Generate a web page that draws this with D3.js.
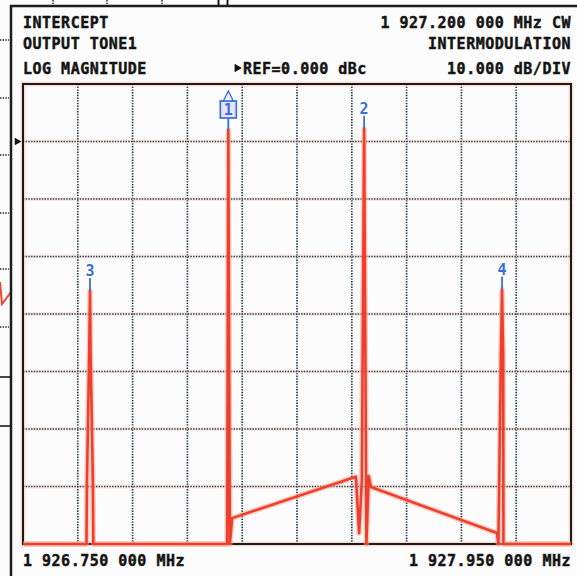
<!DOCTYPE html>
<html>
<head>
<meta charset="utf-8">
<script src="https://cdn.jsdelivr.net/npm/d3@7"></script>
<style>
  html, body { margin: 0; padding: 0; background: #fdfcfc; }
  svg { display: block; }
  .hdr { font-family: "DejaVu Sans Mono", monospace; font-weight: bold; font-size: 15px; letter-spacing: 0.5px; fill: #141414; stroke: #141414; stroke-width: 0.45px; }
  .mk { font-family: "DejaVu Sans Mono", monospace; font-weight: bold; font-size: 15px; fill: #3a6fd6; }
</style>
</head>
<body>
<script>
"use strict";

// swept trace, frequency in MHz and magnitude in dBc
const freqMHz = [1926.750, 1926.889, 1926.890, 1926.895, 1926.8967, 1926.898, 1926.903, 1926.904,
  1927.197, 1927.1996, 1927.203, 1927.208, 1927.479, 1927.486, 1927.492, 1927.497, 1927.502,
  1927.507, 1927.512, 1927.788, 1927.791, 1927.7965, 1927.799, 1927.8015, 1927.802, 1927.950];
const magDb = [-70, -70, -59.2, -36.8, -26.0, -36.8, -59.2, -70,
  -70, 2.0, -70, -65.5, -58.3, -68.1, -59.0, 2.2, -70,
  -58.2, -60.1, -68.1, -70, -37, -25.8, -37, -70, -70];

// markers
const markerIds = ["1", "2", "3", "4"];
const markerFreq = [1927.1996, 1927.497, 1926.8967, 1927.799];
const markerDb = [2.0, 2.2, -26.0, -25.8];

// axes
const startMHz = 1926.75, stopMHz = 1927.95;
const refDb = 0, dbPerDiv = 10;
const topDb = 10, bottomDb = -70;
const xDivs = 10;

// annotation texts
const leftLines = ["INTERCEPT", "OUTPUT TONE1", "LOG MAGNITUDE"];
const rightLines = ["1 927.200 000 MHz CW", "INTERMODULATION", "10.000 dB/DIV"];
const refText = "REF=0.000 dBc";
const startLabel = "1 926.750 000 MHz";
const stopLabel = "1 927.950 000 MHz";

const W = 577, H = 576;
const plot = { left: 23, top: 84, right: 571, bottom: 544 };

const svg = d3.select("body").append("svg")
  .attr("width", W)
  .attr("height", H);

// ---- bits of the neighbouring screen showing behind ----
const bg = svg.append("g");
[53, 107, 162].forEach(function (x) {
  bg.append("line").attr("x1", x).attr("x2", x).attr("y1", 0).attr("y2", 5)
    .attr("stroke", "#223").attr("stroke-width", 1.5).attr("stroke-dasharray", "1.4 1.3");
});
[218.5, 227.5].forEach(function (x) {
  bg.append("line").attr("x1", x).attr("x2", x).attr("y1", 0).attr("y2", 6)
    .attr("stroke", "#1a1a1a").attr("stroke-width", 2);
});
[40, 98, 155, 213, 269, 327].forEach(function (y) {
  bg.append("line").attr("x1", 0).attr("x2", 9).attr("y1", y).attr("y2", y)
    .attr("stroke", "#223").attr("stroke-width", 1.5).attr("stroke-dasharray", "1.4 1.3");
});
[377, 426].forEach(function (y) {
  bg.append("line").attr("x1", 0).attr("x2", 11).attr("y1", y).attr("y2", y)
    .attr("stroke", "#1a1a1a").attr("stroke-width", 1.6);
});
bg.append("path").attr("d", "M0,282 L2,304 L5,300 L11,292")
  .attr("fill", "none").attr("stroke", "#ee4433").attr("stroke-width", 2);

// outer frame of this screen
svg.append("path").attr("d", "M11,576 L11,6 L577,6")
  .attr("fill", "none").attr("stroke", "#1c1c1c").attr("stroke-width", 2.5);

// ---- scales ----
const x = d3.scaleLinear().domain([startMHz, stopMHz]).range([plot.left, plot.right]);
const y = d3.scaleLinear().domain([bottomDb, topDb]).range([plot.bottom, plot.top]);

const xTicks = d3.range(1, xDivs).map(function (i) { return startMHz + i * (stopMHz - startMHz) / xDivs; });
const yTicks = d3.range(bottomDb + dbPerDiv, topDb, dbPerDiv);

// ---- grid ----
const grid = svg.append("g");
grid.selectAll(".vg").data(xTicks).enter().append("line")
  .attr("x1", function (d) { return x(d); }).attr("x2", function (d) { return x(d); })
  .attr("y1", plot.top).attr("y2", plot.bottom)
  .attr("stroke", "#1f3d4d").attr("stroke-width", 1.7).attr("stroke-dasharray", "1.4 1.3");
grid.selectAll(".hgh").data(yTicks).enter().append("line")
  .attr("x1", plot.left).attr("x2", plot.right)
  .attr("y1", function (d) { return y(d); }).attr("y2", function (d) { return y(d); })
  .attr("stroke", "#f6c7b6").attr("stroke-width", 4).attr("opacity", 0.35);
grid.selectAll(".hg").data(yTicks).enter().append("line")
  .attr("x1", plot.left).attr("x2", plot.right)
  .attr("y1", function (d) { return y(d); }).attr("y2", function (d) { return y(d); })
  .attr("stroke", "#1f3d4d").attr("stroke-width", 1.7).attr("stroke-dasharray", "1.4 1.3");

// plot border
svg.append("rect")
  .attr("x", plot.left).attr("y", plot.top)
  .attr("width", plot.right - plot.left).attr("height", plot.bottom - plot.top)
  .attr("fill", "none").attr("stroke", "#f6b9a3").attr("stroke-width", 5).attr("opacity", 0.45);
svg.append("rect")
  .attr("x", plot.left).attr("y", plot.top)
  .attr("width", plot.right - plot.left).attr("height", plot.bottom - plot.top)
  .attr("fill", "none").attr("stroke", "#1a1a1a").attr("stroke-width", 2);

// reference position arrow
svg.append("path")
  .attr("d", d3.symbol().type(d3.symbolTriangle).size(26))
  .attr("transform", "translate(17," + y(refDb) + ") rotate(90)")
  .attr("fill", "#111");

// ---- trace ----
const pts = freqMHz.map(function (f, i) { return [f, magDb[i]]; });
const line = d3.line()
  .x(function (d) { return x(d[0]); })
  .y(function (d) { return y(d[1]); });

svg.append("path").datum(pts).attr("d", line)
  .attr("fill", "none").attr("stroke", "#f7a591").attr("stroke-width", 5.5)
  .attr("stroke-linejoin", "round").attr("opacity", 0.55);
svg.append("path").datum(pts).attr("d", line)
  .attr("fill", "none").attr("stroke", "#ee3f2e").attr("stroke-width", 2.6)
  .attr("stroke-linejoin", "round");

// ---- markers ----
const blue = "#3a6fd6";
markerIds.forEach(function (id, i) {
  const mx = x(markerFreq[i]);
  const my = y(markerDb[i]);
  const g = svg.append("g");
  g.append("line").attr("x1", mx).attr("x2", mx).attr("y1", my - 13).attr("y2", my)
    .attr("stroke", blue).attr("stroke-width", 1.8);
  if (i === 0) {
    // active marker: boxed number with triangle above
    g.append("rect").attr("x", mx - 8).attr("y", my - 29).attr("width", 16).attr("height", 17)
      .attr("fill", "#e8e4f6").attr("stroke", blue).attr("stroke-width", 1.7);
    g.append("path")
      .attr("d", "M" + mx + "," + (my - 39) + " L" + (mx + 5) + "," + (my - 29) + " L" + (mx - 5) + "," + (my - 29) + " Z")
      .attr("fill", "#f1eefa").attr("stroke", blue).attr("stroke-width", 1.4);
    g.append("text").attr("class", "mk").attr("x", mx).attr("y", my - 15)
      .attr("text-anchor", "middle").text(id);
  } else {
    g.append("text").attr("class", "mk").attr("x", mx).attr("y", my - 15)
      .attr("text-anchor", "middle").text(id);
  }
});

// ---- header and footer text ----
const baselines = [28, 49, 74];
leftLines.forEach(function (t, i) {
  svg.append("text").attr("class", "hdr").attr("x", plot.left).attr("y", baselines[i]).text(t);
});
rightLines.forEach(function (t, i) {
  svg.append("text").attr("class", "hdr").attr("x", plot.right).attr("y", baselines[i])
    .attr("text-anchor", "end").text(t);
});
svg.append("path")
  .attr("d", d3.symbol().type(d3.symbolTriangle).size(30))
  .attr("transform", "translate(237,68) rotate(90)")
  .attr("fill", "#111");
svg.append("text").attr("class", "hdr").attr("x", 243).attr("y", baselines[2]).text(refText);

svg.append("text").attr("class", "hdr").attr("x", plot.left).attr("y", 566).text(startLabel);
svg.append("text").attr("class", "hdr").attr("x", plot.right).attr("y", 566)
  .attr("text-anchor", "end").text(stopLabel);
</script>
</body>
</html>
